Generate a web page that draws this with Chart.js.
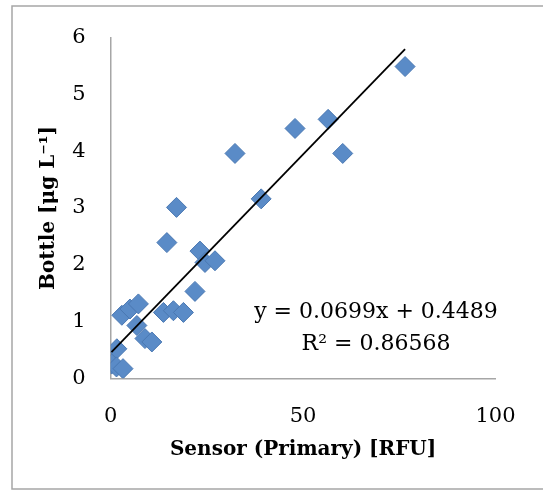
<!DOCTYPE html>
<html lang="en">
<head>
    <meta charset="UTF-8">
    <title>Bottle vs Sensor</title>
    <style>
        body {
            margin: 0;
            padding: 0;
            background-color: #ffffff;
        }
        .chart-container {
            position: relative;
            width: 543px;
            height: 491px;
        }
    </style>
    <script src="https://cdn.jsdelivr.net/npm/chart.js"></script>
</head>
<body>
    <div class="chart-container">
        <canvas id="plot"></canvas>
    </div>

    <script>
        // values
        const sensorRFU = [76.5, 56.5, 47.9, 60.3, 32.3, 39.1, 17.1, 14.6, 23.2, 24.5, 27.1, 21.9,
                           2.9, 5.0, 7.2, 6.8, 8.9, 10.7, 13.7, 16.3, 18.9, 1.6, 0.2, 1.5, 3.2];
        const bottleUgL = [5.49, 4.56, 4.40, 3.96, 3.96, 3.16, 3.01, 2.39, 2.24, 2.04, 2.07, 1.53,
                           1.11, 1.22, 1.31, 0.93, 0.70, 0.64, 1.16, 1.19, 1.16, 0.52, 0.25, 0.20, 0.17];
        const xTickValues = [0, 50, 100];
        const yTickValues = [0, 1, 2, 3, 4, 5, 6];
        const trendSlope = 0.0699;
        const trendIntercept = 0.4489;
        const rSquared = 0.86568;

        const points = sensorRFU.map((x, i) => ({x: x, y: bottleUgL[i]}));
        const xMin = Math.min(...sensorRFU);
        const xMax = Math.max(...sensorRFU);
        const trendPoints = [xMin, xMax].map(x => ({x: x, y: trendSlope * x + trendIntercept}));

        const serif = "'DejaVu Serif', 'Liberation Serif', serif";

        const frameAndLabel = {
            id: 'frameAndLabel',
            beforeDraw(chart) {
                const ctx = chart.ctx;
                ctx.save();
                ctx.strokeStyle = '#a6a6a6';
                ctx.lineWidth = 1.5;
                ctx.strokeRect(12, 6, 560, 483);
                ctx.restore();
            },
            afterDraw(chart) {
                const ctx = chart.ctx;
                ctx.save();
                ctx.fillStyle = '#000';
                ctx.font = '22px ' + serif;
                ctx.textAlign = 'center';
                ctx.textBaseline = 'middle';
                ctx.fillText('y = ' + trendSlope.toFixed(4) + 'x + ' + trendIntercept.toFixed(4), 376, 312);
                ctx.fillText('R\u00B2 = ' + rSquared.toFixed(5), 376, 344);
                ctx.restore();
            }
        };

        const ctx = document.getElementById('plot').getContext('2d');
        new Chart(ctx, {
            type: 'scatter',
            data: {
                datasets: [{
                    label: 'Trend',
                    data: trendPoints,
                    showLine: true,
                    borderColor: '#000',
                    borderWidth: 1.8,
                    pointRadius: 0,
                    fill: false,
                    order: 0
                }, {
                    label: 'Bottle',
                    data: points,
                    pointStyle: 'rectRot',
                    pointRadius: 10,
                    backgroundColor: '#5a8bc7',
                    borderColor: '#4a78b2',
                    borderWidth: 1,
                    order: 1
                }]
            },
            options: {
                responsive: true,
                maintainAspectRatio: false,
                animation: false,
                layout: {
                    padding: {left: 0, top: 35, right: 47.5, bottom: 0}
                },
                plugins: {
                    legend: {display: false},
                    tooltip: {enabled: false}
                },
                scales: {
                    x: {
                        type: 'linear',
                        min: 0,
                        max: 100,
                        afterBuildTicks: s => { s.ticks = xTickValues.map(v => ({value: v})); },
                        afterFit: s => { s.height = 112.7; },
                        grid: {display: false, drawTicks: false},
                        border: {display: true, color: '#a6a6a6', width: 1.5},
                        ticks: {
                            padding: 26,
                            color: '#000',
                            font: {family: serif, size: 21}
                        },
                        title: {
                            display: true,
                            text: 'Sensor (Primary) [RFU]',
                            color: '#000',
                            font: {family: serif, size: 20, weight: 'bold'},
                            padding: {top: 0, bottom: 29}
                        }
                    },
                    y: {
                        type: 'linear',
                        min: 0,
                        max: 6,
                        afterBuildTicks: s => { s.ticks = yTickValues.map(v => ({value: v})); },
                        afterFit: s => { s.width = 110.7; },
                        grid: {display: false, drawTicks: false},
                        border: {display: true, color: '#a6a6a6', width: 1.5},
                        ticks: {
                            padding: 25,
                            color: '#000',
                            font: {family: serif, size: 21}
                        },
                        title: {
                            display: true,
                            text: 'Bottle [\u03BCg L\u207B\u00B9]',
                            color: '#000',
                            font: {family: serif, size: 20, weight: 'bold'},
                            padding: {top: 37, bottom: 0}
                        }
                    }
                }
            },
            plugins: [frameAndLabel]
        });
    </script>
</body>
</html>
